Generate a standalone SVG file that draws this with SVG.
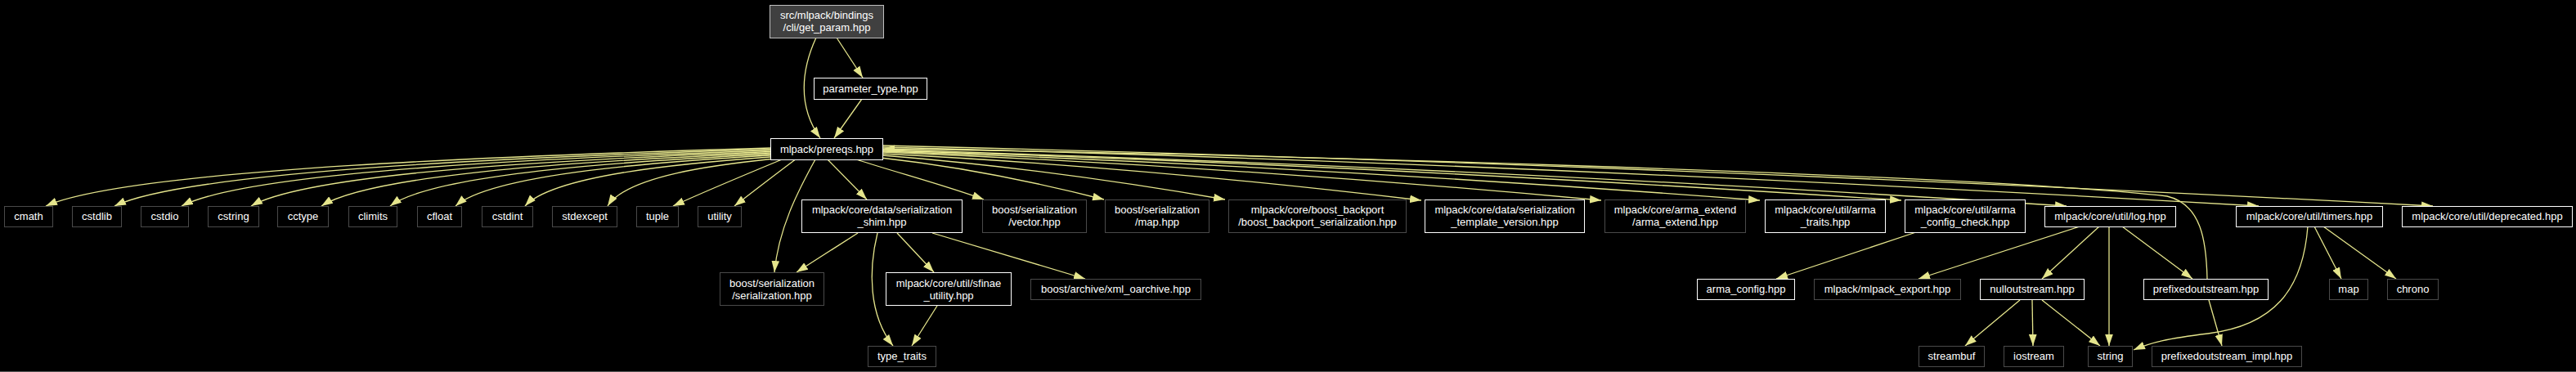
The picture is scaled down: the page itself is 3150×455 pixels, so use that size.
<svg xmlns="http://www.w3.org/2000/svg" width="3150" height="455" viewBox="0 0 3150 455">
<defs>
<marker id="a" markerUnits="userSpaceOnUse" markerWidth="14" markerHeight="10" viewBox="0 0 13 9" refX="13" refY="4.5" orient="auto">
<path d="M0,0 L13,4.5 L0,9 Z" fill="#e5e58c"/>
</marker>
<style>
.n rect{fill:#000;stroke:#ffffff;stroke-width:1}
.u rect{fill:#000;stroke:#4a4a4a;stroke-width:1}
.r rect{fill:#404040;stroke:#bfbfbf;stroke-width:1}
text{font-family:"Liberation Sans",Arial,sans-serif;font-size:13px;fill:#ffffff;text-anchor:middle}
.e path{fill:none;stroke:#e5e58c;stroke-width:1.3;marker-end:url(#a)}
</style>
</defs>
<rect x="0" y="0" width="3150" height="455" fill="#000"/>
<g id="edges" class="e">
<path d="M998,46 C980,85 975,130 1003,169"/>
<path d="M1023,46 L1055,95"/>
<path d="M1054,121 L1020,169"/>
<path d="M942,181 C650,189.5 162,206 56,252"/>
<path d="M942,182.5 C677,190.8 236,206.8 140,252"/>
<path d="M942,184 C704,192.2 308,207.8 222,252"/>
<path d="M942,185.5 C732,193.5 383,208.8 307,252"/>
<path d="M942,187 C761,194.8 459,209.8 393,252"/>
<path d="M942,188.5 C788,196.1 533,210.7 477,252"/>
<path d="M942,190 C815,197.4 603,211.7 557,252"/>
<path d="M942,192 C843,199.2 678,213 642,252"/>
<path d="M943,194.5 C877,201.4 767,214.6 743,252"/>
<path d="M955,195.5 C920,210 860,235 823,252"/>
<path d="M972,195.5 C950,212 920,235 898,252"/>
<path d="M997,195 C975,235 952,280 947,333"/>
<path d="M1012,195 L1060,244"/>
<path d="M1047,195 C1100,212 1160,228 1203,244"/>
<path d="M1077,193 C1167,203 1260,221 1350,244"/>
<path d="M1079,190 C1217,201 1360,220 1498,244"/>
<path d="M1079,188 C1296,199 1520,219 1738,245"/>
<path d="M1079,186 C1369,198 1668,218 1958,245"/>
<path d="M1079,185 C1433,197 1798,218 2152,245"/>
<path d="M1079,184 C1490,196 1914,218 2325,245"/>
<path d="M1079,183 C1557,197 2049,221 2527,252"/>
<path d="M1079,180 C1634,194 2207,220 2762,252"/>
<path d="M1079,178 C1705,193 2349,219 2975,252"/>
<path d="M2699,341 C2698,295 2692,250 2650,240 C2400,212 1500,188 1080,182"/>
<path d="M1049,285 L974,333"/>
<path d="M1073,285 C1062,330 1062,385 1092,423"/>
<path d="M1097,285 L1142,333"/>
<path d="M1140,285 L1327,341"/>
<path d="M1146,374 L1115,423"/>
<path d="M2343,284 L2172,341"/>
<path d="M2543,277 L2346,341"/>
<path d="M2567,277 L2497,341"/>
<path d="M2579,277 L2579,423"/>
<path d="M2595,277 L2681,341"/>
<path d="M2470,367 L2403,423"/>
<path d="M2485,367 L2486,423"/>
<path d="M2497,367 L2568,423"/>
<path d="M2701,367 L2717,423"/>
<path d="M2822,277 C2816,355 2780,398 2700,408 C2650,414 2630,419 2609,428"/>
<path d="M2830,277 L2863,341"/>
<path d="M2841,277 L2930,341"/>
</g>
<g id="get_param" class="r"><rect x="941.5" y="6.5" width="139" height="40"/><text x="1011" y="22.5">src/mlpack/bindings</text><text x="1011" y="37.5">/cli/get_param.hpp</text></g>
<g id="parameter_type" class="n"><rect x="995.5" y="95.5" width="138" height="26"/><text x="1064.5" y="112.5">parameter_type.hpp</text></g>
<g id="prereqs" class="n"><rect x="942.5" y="169.5" width="137" height="26"/><text x="1011" y="186.5">mlpack/prereqs.hpp</text></g>
<g id="cmath" class="u"><rect x="5.5" y="252.5" width="59" height="25"/><text x="35" y="268.5">cmath</text></g>
<g id="cstdlib" class="u"><rect x="88.5" y="252.5" width="60" height="25"/><text x="118.5" y="268.5">cstdlib</text></g>
<g id="cstdio" class="u"><rect x="172.5" y="252.5" width="58" height="25"/><text x="201.5" y="268.5">cstdio</text></g>
<g id="cstring" class="u"><rect x="254.5" y="252.5" width="62" height="25"/><text x="285.5" y="268.5">cstring</text></g>
<g id="cctype" class="u"><rect x="339.5" y="252.5" width="62" height="25"/><text x="370.5" y="268.5">cctype</text></g>
<g id="climits" class="u"><rect x="426.5" y="252.5" width="59" height="25"/><text x="456" y="268.5">climits</text></g>
<g id="cfloat" class="u"><rect x="510.5" y="252.5" width="54" height="25"/><text x="537.5" y="268.5">cfloat</text></g>
<g id="cstdint" class="u"><rect x="589.5" y="252.5" width="62" height="25"/><text x="620.5" y="268.5">cstdint</text></g>
<g id="stdexcept" class="u"><rect x="675.5" y="252.5" width="79" height="25"/><text x="715" y="268.5">stdexcept</text></g>
<g id="tuple" class="u"><rect x="778.5" y="252.5" width="51" height="25"/><text x="804" y="268.5">tuple</text></g>
<g id="utility" class="u"><rect x="853.5" y="252.5" width="53" height="25"/><text x="880" y="268.5">utility</text></g>
<g id="serialization_shim" class="n"><rect x="980.5" y="244.5" width="196" height="40"/><text x="1078.5" y="261">mlpack/core/data/serialization</text><text x="1078.5" y="276">_shim.hpp</text></g>
<g id="vector" class="u"><rect x="1201.5" y="244.5" width="127" height="40"/><text x="1265" y="261">boost/serialization</text><text x="1265" y="276">/vector.hpp</text></g>
<g id="map_hpp" class="u"><rect x="1351.5" y="244.5" width="127" height="40"/><text x="1415" y="261">boost/serialization</text><text x="1415" y="276">/map.hpp</text></g>
<g id="boost_backport" class="u"><rect x="1502.5" y="244.5" width="217" height="40"/><text x="1611" y="261">mlpack/core/boost_backport</text><text x="1611" y="276">/boost_backport_serialization.hpp</text></g>
<g id="template_version" class="n"><rect x="1742.5" y="244.5" width="195" height="40"/><text x="1840" y="261">mlpack/core/data/serialization</text><text x="1840" y="276">_template_version.hpp</text></g>
<g id="arma_extend" class="u"><rect x="1962.5" y="244.5" width="172" height="40"/><text x="2048.5" y="261">mlpack/core/arma_extend</text><text x="2048.5" y="276">/arma_extend.hpp</text></g>
<g id="arma_traits" class="n"><rect x="2158.5" y="244.5" width="147" height="40"/><text x="2232" y="261">mlpack/core/util/arma</text><text x="2232" y="276">_traits.hpp</text></g>
<g id="arma_config_check" class="n"><rect x="2329.5" y="244.5" width="147" height="40"/><text x="2403" y="261">mlpack/core/util/arma</text><text x="2403" y="276">_config_check.hpp</text></g>
<g id="log" class="n"><rect x="2500.5" y="252.5" width="160" height="25"/><text x="2580.5" y="268.5">mlpack/core/util/log.hpp</text></g>
<g id="timers" class="n"><rect x="2734.5" y="252.5" width="179" height="25"/><text x="2824" y="268.5">mlpack/core/util/timers.hpp</text></g>
<g id="deprecated" class="n"><rect x="2937.5" y="252.5" width="208" height="25"/><text x="3041.5" y="268.5">mlpack/core/util/deprecated.hpp</text></g>
<g id="serialization_hpp" class="u"><rect x="880.5" y="333.5" width="127" height="40"/><text x="944" y="350.5">boost/serialization</text><text x="944" y="365.5">/serialization.hpp</text></g>
<g id="sfinae_utility" class="n"><rect x="1083.5" y="333.5" width="153" height="40"/><text x="1160" y="350.5">mlpack/core/util/sfinae</text><text x="1160" y="365.5">_utility.hpp</text></g>
<g id="xml_oarchive" class="u"><rect x="1260.5" y="341.5" width="208" height="25"/><text x="1364.5" y="358">boost/archive/xml_oarchive.hpp</text></g>
<g id="arma_config" class="n"><rect x="2075.5" y="341.5" width="119" height="25"/><text x="2135" y="358">arma_config.hpp</text></g>
<g id="mlpack_export" class="u"><rect x="2218.5" y="341.5" width="179" height="25"/><text x="2308" y="358">mlpack/mlpack_export.hpp</text></g>
<g id="nulloutstream" class="n"><rect x="2421.5" y="341.5" width="127" height="25"/><text x="2485" y="358">nulloutstream.hpp</text></g>
<g id="prefixedoutstream" class="n"><rect x="2621.5" y="341.5" width="152" height="25"/><text x="2697.5" y="358">prefixedoutstream.hpp</text></g>
<g id="map" class="u"><rect x="2848.5" y="341.5" width="47" height="25"/><text x="2872" y="358">map</text></g>
<g id="chrono" class="u"><rect x="2919.5" y="341.5" width="62" height="25"/><text x="2950.5" y="358">chrono</text></g>
<g id="type_traits" class="u"><rect x="1061.5" y="423.5" width="83" height="25"/><text x="1103" y="440">type_traits</text></g>
<g id="streambuf" class="u"><rect x="2346.5" y="423.5" width="80" height="25"/><text x="2386.5" y="440">streambuf</text></g>
<g id="iostream" class="u"><rect x="2450.5" y="423.5" width="73" height="25"/><text x="2487" y="440">iostream</text></g>
<g id="string" class="u"><rect x="2553.5" y="423.5" width="54" height="25"/><text x="2580.5" y="440">string</text></g>
<g id="prefixedoutstream_impl" class="u"><rect x="2631.5" y="423.5" width="183" height="25"/><text x="2723" y="440">prefixedoutstream_impl.hpp</text></g>
<rect x="0" y="454" width="3150" height="1" fill="#555555"/>
</svg>
